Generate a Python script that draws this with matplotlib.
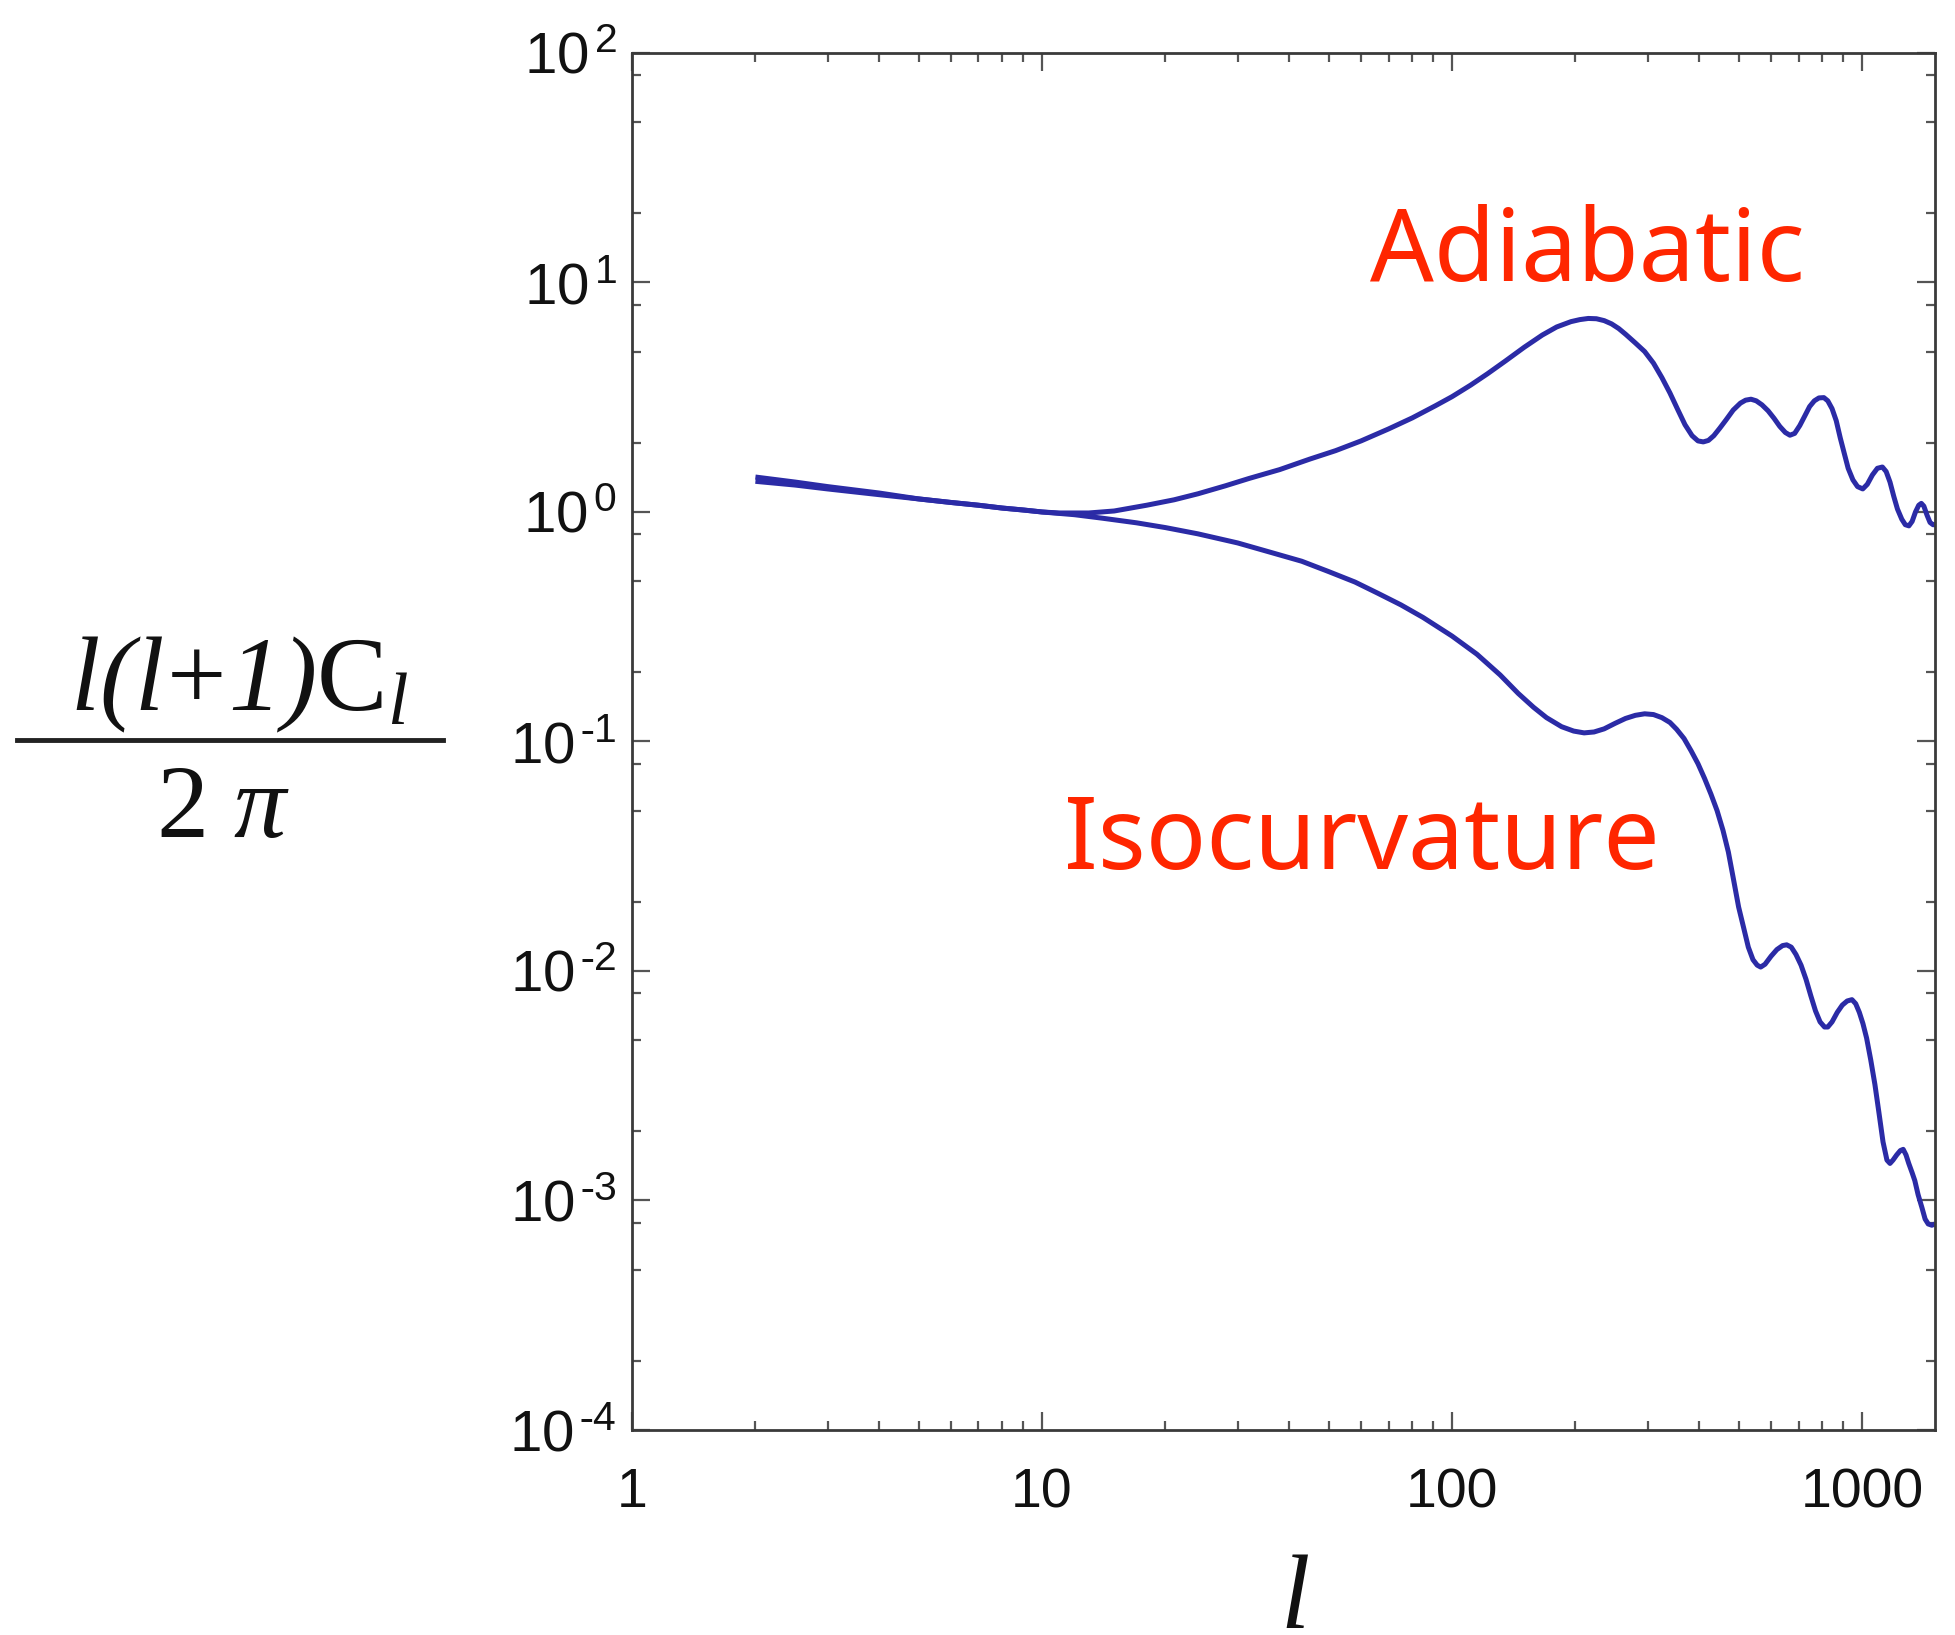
import matplotlib
matplotlib.use("Agg")
import matplotlib.pyplot as plt
from matplotlib.ticker import LogLocator, NullFormatter, FixedLocator, FixedFormatter
from matplotlib.lines import Line2D

plt.rcParams['font.family'] = ['Liberation Sans', 'DejaVu Sans']
plt.rcParams['mathtext.fontset'] = 'custom'
plt.rcParams['mathtext.rm'] = 'Liberation Serif'
plt.rcParams['mathtext.it'] = 'Liberation Serif:italic'
plt.rcParams['mathtext.sf'] = 'Liberation Serif:italic'  # italic digits/brackets

# multipole l and l(l+1)C_l/2pi
adi_l = [2, 2.5, 3, 4, 5, 6, 7, 8, 9, 10, 11, 12, 13, 15, 18, 21, 24, 28, 32, 38,
         45, 52, 60, 70, 80, 91, 100, 111, 122, 135, 150, 166, 180, 195, 205, 215,
         225, 235, 245, 255, 265, 280, 295, 310, 325, 340, 355, 370, 385, 398, 410,
         422, 435, 450, 466, 485, 505, 520, 536, 552, 570, 590, 610, 630, 650, 667,
         685, 705, 725, 745, 765, 785, 807, 825, 845, 865, 885, 905, 925, 950, 975,
         1004, 1030, 1060, 1090, 1121, 1145, 1170, 1195, 1220, 1250, 1275, 1301,
         1325, 1350, 1375, 1395, 1415, 1440, 1465, 1490, 1507]
adi_v = [1.42, 1.35, 1.29, 1.21, 1.14, 1.10, 1.07, 1.04, 1.02, 1.00, 0.99, 0.99,
         0.99, 1.01, 1.07, 1.13, 1.20, 1.30, 1.40, 1.53, 1.70, 1.85, 2.04, 2.30,
         2.57, 2.90, 3.18, 3.57, 4.0, 4.55, 5.22, 5.9, 6.4, 6.75, 6.89, 6.97, 6.95,
         6.82, 6.6, 6.3, 5.95, 5.45, 5.0, 4.45, 3.85, 3.3, 2.8, 2.4, 2.15, 2.04,
         2.02, 2.05, 2.15, 2.32, 2.52, 2.78, 2.98, 3.07, 3.1, 3.05, 2.93, 2.76, 2.56,
         2.36, 2.22, 2.16, 2.2, 2.38, 2.62, 2.88, 3.05, 3.14, 3.15, 3.05, 2.82, 2.5,
         2.1, 1.8, 1.55, 1.38, 1.29, 1.26, 1.32, 1.45, 1.55, 1.57, 1.5, 1.35, 1.17,
         1.03, 0.93, 0.88, 0.87, 0.91, 1.0, 1.07, 1.09, 1.06, 0.97, 0.9, 0.88, 0.88]

iso_l = [2, 2.5, 3, 4, 5, 6, 7, 8, 9, 10, 12, 14, 17, 20, 24, 30, 36, 43, 50, 58,
         66, 75, 85, 100, 115, 131, 145, 158, 170, 185, 198, 210, 222, 235, 250,
         265, 280, 295, 310, 325, 340, 353, 368, 383, 398, 413, 428, 443, 458, 472,
         486, 500, 514, 528, 542, 555, 566, 580, 600, 620, 640, 655, 672, 690, 710,
         730, 750, 770, 790, 810, 825, 845, 870, 895, 920, 945, 965, 985, 1005,
         1026, 1050, 1075, 1100, 1125, 1150, 1170, 1190, 1215, 1240, 1260, 1280,
         1300, 1325, 1345, 1370, 1400, 1425, 1450, 1480, 1507]
iso_v = [1.36, 1.31, 1.26, 1.19, 1.14, 1.10, 1.07, 1.04, 1.02, 1.0, 0.973, 0.94,
         0.897, 0.855, 0.803, 0.733, 0.668, 0.61, 0.55, 0.495, 0.442, 0.394, 0.347,
         0.288, 0.24, 0.195, 0.162, 0.141, 0.127, 0.116, 0.111, 0.109, 0.110,
         0.1135, 0.12, 0.126, 0.13, 0.132, 0.131, 0.127, 0.121, 0.113, 0.103,
         0.091, 0.080, 0.069, 0.059, 0.050, 0.041, 0.033, 0.025, 0.019, 0.0155,
         0.0127, 0.0112, 0.0106, 0.0104, 0.0107, 0.0116, 0.0124, 0.0129, 0.013,
         0.0127, 0.0118, 0.0106, 0.0092, 0.0078, 0.0067, 0.006, 0.0057, 0.0057,
         0.006, 0.0066, 0.0071, 0.0074, 0.0075, 0.0072, 0.0066, 0.0059, 0.0051,
         0.0041, 0.0032, 0.0024, 0.0018, 0.0015, 0.00145, 0.0015, 0.00158, 0.00165,
         0.00167, 0.00158, 0.00145, 0.00132, 0.00122, 0.00106, 0.00093, 0.00083,
         0.00079, 0.00078, 0.00079]

x_ticks = [1, 10, 100, 1000]
x_labels = ['1', '10', '100', '1000']
y_ticks = [1e-4, 1e-3, 1e-2, 1e-1, 1e0, 1e1, 1e2]
y_labels = [r'$\mathregular{10^{\,%s}}$' % (r'\text{-}%d' % -p if p < 0 else '%d' % p)
            for p in range(-4, 3)]

line_col = '#2b2ba6'
red = '#ff2600'
spine_col = '#3a3a3a'

fig = plt.figure(figsize=(19.56, 16.35), dpi=100)
ax = fig.add_axes([0.3231, 0.1254, 0.6662, 0.8422])

for xs, ys in [(adi_l, adi_v), (iso_l, iso_v)]:
    ax.plot(xs, ys, color=line_col, lw=3.6, solid_joinstyle='round',
            solid_capstyle='butt')

ax.set_xscale('log')
ax.set_yscale('log')
ax.set_xlim(1, 1507)
ax.set_ylim(1e-4, 1e2)

ax.xaxis.set_major_locator(FixedLocator(x_ticks))
ax.xaxis.set_major_formatter(FixedFormatter(x_labels))
ax.xaxis.set_minor_locator(LogLocator(base=10, subs=range(2, 10), numticks=30))
ax.xaxis.set_minor_formatter(NullFormatter())
ax.yaxis.set_major_locator(FixedLocator(y_ticks))
ax.yaxis.set_major_formatter(FixedFormatter(y_labels))
ax.yaxis.set_minor_locator(LogLocator(base=10, subs=(2, 5, 8), numticks=30))
ax.yaxis.set_minor_formatter(NullFormatter())

for s in ax.spines.values():
    s.set_color(spine_col)
    s.set_linewidth(2.0)
ax.tick_params(which='both', direction='in', top=True, right=True,
               color='#555555', width=1.6, labelcolor='#111111')
ax.tick_params(which='major', length=13)
ax.tick_params(which='minor', length=6.5)
ax.tick_params(axis='x', which='major', pad=27, labelsize=40)
ax.tick_params(axis='y', which='major', pad=11, labelsize=42)

# curve labels
ax.text(0.5664, 0.8344, 'Adiabatic', transform=ax.transAxes, color=red,
        fontsize=72, fontfamily='Noto Sans', va='baseline', ha='left')
ax.text(0.3315, 0.4074, 'Isocurvature', transform=ax.transAxes, color=red,
        fontsize=72, fontfamily='Noto Sans', va='baseline', ha='left')

# y label as a stacked fraction
fig.text(0.1222, 0.5657, r'$l\mathsf{(}l\!+\!\mathsf{1)}\mathrm{C}_l$',
         ha='center', va='baseline', fontsize=76, color='#111111')
fig.add_artist(Line2D([0.0087, 0.2265], [0.5474, 0.5474],
                      transform=fig.transFigure, lw=3.5, color='#222222'))
fig.text(0.114, 0.488, r'$\mathrm{2}\ \pi$', ha='center', va='baseline',
         fontsize=75, color='#111111')

# x label
fig.text(0.662, 0.0514, r'$l$', ha='center', va='top', fontsize=76,
         color='#111111')

fig.savefig('out.png', dpi=100)
